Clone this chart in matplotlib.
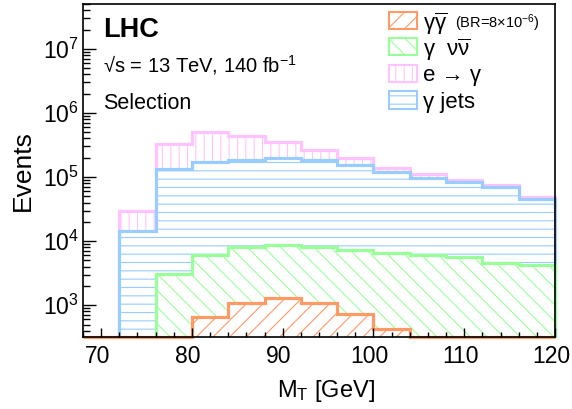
import numpy as np
import matplotlib
matplotlib.use("Agg")
import matplotlib.pyplot as plt
from matplotlib.ticker import MultipleLocator, LogLocator, NullFormatter
from matplotlib.patches import Rectangle
from matplotlib.transforms import Affine2D, ScaledTranslation

# ---------------- data (displayed, stacked heights per bin) ----------------
edges_full = [68, 72, 76, 80, 84, 88, 92, 96, 100, 104, 108, 112, 116, 120]
edges_main = [72, 76, 80, 84, 88, 92, 96, 100, 104, 108, 112, 116, 120]
edges_nunu = [76, 80, 84, 88, 92, 96, 100, 104, 108, 112, 116, 120]

# e -> gamma (top of stack)
e_to_gamma = [3.0e4, 3.3e5, 5.0e5, 4.4e5, 3.5e5, 2.6e5, 1.95e5, 1.36e5, 1.1e5, 9.0e4, 7.6e4, 4.9e4]
# gamma + jets
gamma_jets = [1.45e4, 1.33e5, 1.73e5, 1.83e5, 2.0e5, 1.83e5, 1.53e5, 1.2e5, 9.5e4, 8.4e4, 7.1e4, 4.5e4]
# gamma nu nubar
gamma_nunu = [3.1e3, 6.1e3, 8.0e3, 8.8e3, 8.0e3, 7.4e3, 6.6e3, 6.0e3, 5.6e3, 4.6e3, 4.3e3]
# gamma gamma-bar signal
gamma_gammabar = [0, 0, 0, 660, 1090, 1300, 1090, 740, 420, 0, 0, 0, 0]

labels = [r"$\gamma\overline{\gamma}$", r"$\gamma\ \ \nu\overline{\nu}$", "e → γ", "γ jets"]
br_label = r"(BR=8$\times$10$^{-6}$)"
x_ticks = [70, 80, 90, 100, 110, 120]

# ---------------- style ----------------
plt.rcParams["font.family"] = ["Liberation Sans", "DejaVu Sans"]
plt.rcParams["mathtext.fontset"] = "custom"
plt.rcParams["mathtext.rm"] = "Liberation Sans"
plt.rcParams["mathtext.it"] = "Liberation Sans:italic"
plt.rcParams["mathtext.bf"] = "Liberation Sans:bold"
plt.rcParams["mathtext.default"] = "regular"
plt.rcParams["hatch.linewidth"] = 0.8

c_orange = "#ff9966"
c_green = "#99ff99"
c_pink = "#ffc4ff"
c_blue = "#99ccff"

W, H = 572, 409
fig = plt.figure(figsize=(W / 100, H / 100), dpi=100)
ax = fig.add_axes([83 / W, 1 - 337 / H, (555 - 83) / W, (337 - 4) / H])

ymin, ymax = 320, 5e7
ax.set_xlim(68, 120)
ax.set_yscale("log")
ax.set_ylim(ymin, ymax)

hists = [
    (edges_main, e_to_gamma, c_pink, "||"),
    (edges_main, gamma_jets, c_blue, "--"),
    (edges_nunu, gamma_nunu, c_green, "\\\\"),
    (edges_full, gamma_gammabar, c_orange, "//"),
]
for ed, vals, col, hatch in hists:
    v = np.maximum(np.asarray(vals, float), ymin)
    ax.stairs(v, ed, baseline=ymin, fill=True, facecolor="white",
              edgecolor=col, hatch=hatch, linewidth=0)
    ln = ax.stairs(v, ed, baseline=ymin, fill=False, color=col, linewidth=2.3)
    ln.set_clip_on(False)

# axes styling
for s in ax.spines.values():
    s.set_linewidth(1.2)
    s.set_zorder(5)
ax.xaxis.set_major_locator(MultipleLocator(10))
ax.xaxis.set_minor_locator(MultipleLocator(2))
ax.set_xticks(x_ticks)
ax.yaxis.set_major_locator(LogLocator(base=10, numticks=20))
ax.yaxis.set_minor_locator(LogLocator(base=10, subs=np.arange(2, 10), numticks=20))
ax.yaxis.set_minor_formatter(NullFormatter())
ax.tick_params(axis="both", which="both", direction="in", top=False, right=False,
               width=1.0, labelsize=16.5)
ax.tick_params(axis="x", which="major", length=6.5, pad=6)
ax.tick_params(axis="x", which="minor", length=3.5)
ax.tick_params(axis="y", which="major", length=9.5, pad=3)
ax.tick_params(axis="y", which="minor", length=5)

# x tick labels sit slightly left of their ticks in the reference
shift = ScaledTranslation(-4 / 100, 0, fig.dpi_scale_trans)
for t in ax.xaxis.get_major_ticks():
    t.label1.set_transform(t.label1.get_transform() + shift)

# pixel (top-left origin) transform
px = Affine2D().scale(1 / W, -1 / H).translate(0, 1) + fig.transFigure

fig.text(23, 171, "Events", transform=px, rotation=90, ha="center", va="center", fontsize=19)
fig.text(326, 397, r"M$_{T}$ [GeV]", transform=px, ha="center", va="baseline", fontsize=17)

fig.text(103, 37, "LHC", transform=px, fontsize=19.5, fontweight="bold", va="baseline")
fig.text(103, 72.5, "√s = 13 TeV, 140 fb$^{-1}$", transform=px, fontsize=14.5, va="baseline")
fig.text(103, 109, "Selection", transform=px, fontsize=15.5, va="baseline")

# legend (manual)
leg = [(c_orange, "//"), (c_green, "\\\\"), (c_pink, "||"), (c_blue, "--")]
centers = [20.5, 46.5, 73.3, 100]
for (col, hatch), lab, cy in zip(leg, labels, centers):
    r = Rectangle((389 / W, 1 - (cy + 8.5) / H), 28 / W, 17 / H, transform=fig.transFigure,
                  facecolor="white", edgecolor=col, hatch=hatch, linewidth=1.5)
    fig.add_artist(r)
    fig.text(423, cy, lab, transform=px, fontsize=16, va="center_baseline")
fig.text(455, 20.5, br_label, transform=px, fontsize=10.5, va="center_baseline")

fig.savefig("out.png", dpi=100)
